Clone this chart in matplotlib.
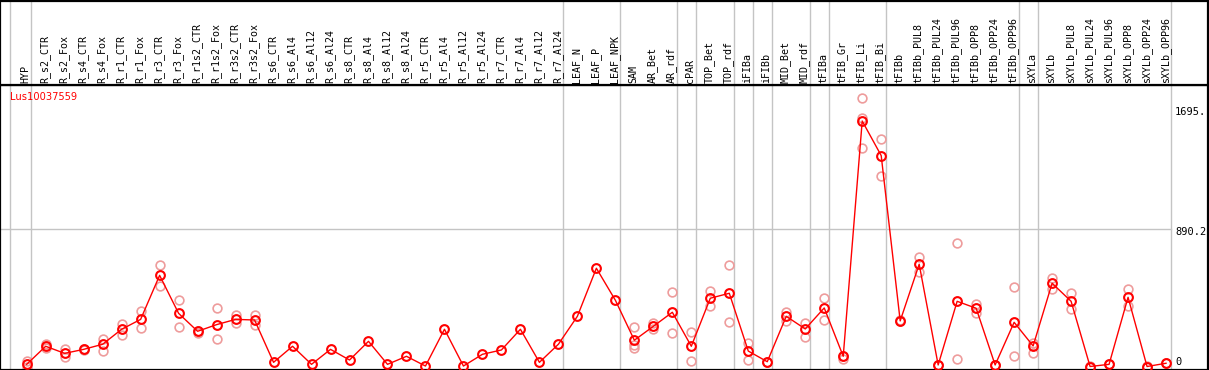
import numpy as np
import matplotlib
matplotlib.use("Agg")
import matplotlib.pyplot as plt
import matplotlib.transforms as mtransforms

gene = "Lus10037559"

samples = ["HYP", "R_s2_CTR", "R_s2_Fox", "R_s4_CTR", "R_s4_Fox", "R_r1_CTR", "R_r1_Fox",
           "R_r3_CTR", "R_r3_Fox", "R_r1s2_CTR", "R_r1s2_Fox", "R_r3s2_CTR", "R_r3s2_Fox",
           "R_s6_CTR", "R_s6_Al4", "R_s6_Al12", "R_s6_Al24", "R_s8_CTR", "R_s8_Al4",
           "R_s8_Al12", "R_s8_Al24", "R_r5_CTR", "R_r5_Al4", "R_r5_Al12", "R_r5_Al24",
           "R_r7_CTR", "R_r7_Al4", "R_r7_Al12", "R_r7_Al24", "LEAF_N", "LEAF_P", "LEAF_NPK",
           "SAM", "AR_Bet", "AR_rdf", "cPAR", "TOP_Bet", "TOP_rdf", "iFIBa", "iFIBb",
           "MID_Bet", "MID_rdf", "tFIBa", "tFIB_Gr", "tFIB_Li", "tFIB_Bi", "tFIBb",
           "tFIBb_PUL8", "tFIBb_PUL24", "tFIBb_PUL96", "tFIBb_OPP8", "tFIBb_OPP24",
           "tFIBb_OPP96", "sXYLa", "sXYLb", "sXYLb_PUL8", "sXYLb_PUL24", "sXYLb_PUL96",
           "sXYLb_OPP8", "sXYLb_OPP24", "sXYLb_OPP96"]

means = [14, 131, 85, 111, 144, 241, 305, 590, 344, 228, 271, 305, 301,
         27, 131, 14, 111, 42, 163, 14, 66, 3, 241, 3, 79, 107, 241, 27, 144,
         325, 636, 429, 170, 260, 351, 131, 442, 474, 100, 31, 325, 243, 379,
         66, 1589, 1365, 295, 662, 10, 422, 377, 10, 286, 133, 539, 422, 0, 14,
         448, 0, 21]

replicates = [[38, 0], [146, 118], [111, 64], [111, 105], [180, 102], [275, 206],
              [357, 247], [655, 519], [429, 254], [228, 220], [377, 178], [333, 280],
              [333, 271], [], [], [], [], [], [], [], [], [], [], [], [], [], [], [], [],
              [], [], [], [254, 139, 118], [280, 243], [480, 215], [221, 38], [489, 394],
              [655, 286], [150, 44], [31, 28], [355, 297], [284, 193], [442, 301],
              [66, 47], [1736, 1607, 1413], [1473, 1233], [295, 300], [707, 614],
              [10, 8], [798, 49], [405, 346], [10, 8], [513, 68], [150, 85], [575, 500],
              [474, 370], [0, 2], [14, 18], [500, 392], [0, 2], [21, 20]]

# last sample of each group (grey separators)
group_ends = [-1.12, 0, 28, 31, 34, 35, 37, 38, 39, 41, 42, 45, 52, 53, 60]

x = np.arange(len(samples))
xmin, xmax = -1.406, 62.21
W, H = 1209, 370

fig = plt.figure(figsize=(W / 100, H / 100), dpi=100)
ax = fig.add_axes([0, 0.5 / H, 1208 / W, (369.5 - 85) / H])
hx = fig.add_axes([0, (H - 85) / H, 1208 / W, 84.5 / H], sharex=ax)

for a in (ax, hx):
    a.set_xlim(xmin, xmax)
    a.set_xticks([])
    a.set_yticks([])
    for s in a.spines.values():
        s.set_color("black")
        s.set_linewidth(1.6)
    for g in group_ends:
        a.axvline(g + 0.24, color="#c4c4c4", lw=1, zorder=0)

ax.set_ylim(-19.4, 1822)
ax.plot([xmin, 60.24], [890.2, 890.2], color="#c4c4c4", lw=1, zorder=0)

for i, reps in enumerate(replicates):
    if reps:
        ax.plot([i] * len(reps), reps, "o", ms=6.3, mfc="none", mec="#ee9c9c", mew=1.2,
                zorder=2)
ax.plot(x, means, "-", color="red", lw=1, marker="o", ms=6.3, mfc="none", mec="red",
        mew=1.5, zorder=3)

for i, name in enumerate(samples):
    hx.text(i - 0.05, 0.025, name, rotation=90, ha="center", va="bottom",
            family="DejaVu Sans Mono", fontsize=7.2, transform=hx.get_xaxis_transform())

ax.text(10 / 1208, 1 - 12 / 284.5, gene, color="red", fontsize=7.1, ha="left",
        va="center", transform=ax.transAxes)

for val, lab, dy in [(1695, "1695.", -7), (890.2, "890.2", -2.7), (0, "0", 4.2)]:
    tr = mtransforms.offset_copy(ax.get_yaxis_transform(), fig=fig, y=dy * 0.72,
                                 units="points")
    ax.text(1175 / 1208, val, lab, family="DejaVu Sans Mono", fontsize=7.5,
            ha="left", va="center", transform=tr)

fig.savefig("out.png", dpi=100)
